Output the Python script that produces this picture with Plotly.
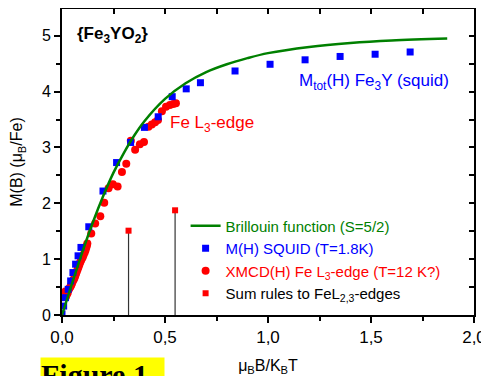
import plotly.graph_objects as go

# Brillouin function (S=5/2)
bril_x = [0.0, 0.05, 0.10, 0.15, 0.20, 0.25, 0.30, 0.35, 0.40, 0.50, 0.60, 0.70,
          0.80, 0.90, 1.00, 1.20, 1.40, 1.60, 1.87]
bril_y = [0.0, 0.58, 1.14, 1.66, 2.13, 2.55, 2.90, 3.21, 3.47, 3.87, 4.15, 4.35,
          4.49, 4.60, 4.69, 4.80, 4.87, 4.915, 4.95]

# M(H) SQUID (T=1.8K)
squid_x = [0.0, 0.008, 0.017, 0.030, 0.042, 0.053, 0.066, 0.078, 0.092, 0.130, 0.199,
           0.265, 0.333, 0.400, 0.467, 0.535, 0.603, 0.672, 0.840, 1.010, 1.180,
           1.350, 1.520, 1.690]
squid_y = [0.02, 0.16, 0.31, 0.46, 0.61, 0.76, 0.91, 1.06, 1.21, 1.58, 2.22,
           2.73, 3.09, 3.36, 3.55, 3.91, 4.05, 4.16, 4.37, 4.49, 4.57,
           4.63, 4.67, 4.71]

# XMCD(H) Fe L3-edge (T=12 K?)
xmcd_x = [0.016, 0.020, 0.024, 0.028, 0.032, 0.036, 0.040, 0.044, 0.048, 0.052,
          0.056, 0.060, 0.064, 0.068, 0.072, 0.076, 0.080, 0.084, 0.088, 0.092,
          0.097, 0.101, 0.105, 0.110, 0.114, 0.118, 0.121, 0.123, 0.142, 0.161,
          0.186, 0.205, 0.226, 0.247, 0.270, 0.291, 0.312, 0.334, 0.355, 0.378,
          0.398, 0.420, 0.436, 0.452, 0.466, 0.485, 0.505, 0.524, 0.540, 0.553]
xmcd_y = [0.42, 0.33, 0.37, 0.40, 0.45, 0.48, 0.50, 0.53, 0.56, 0.60,
          0.63, 0.66, 0.70, 0.74, 0.78, 0.82, 0.86, 0.90, 0.94, 0.97,
          1.01, 1.04, 1.08, 1.12, 1.16, 1.21, 1.25, 1.28, 1.46, 1.64,
          1.77, 2.01, 2.27, 2.34, 2.30, 2.56, 2.71, 3.12, 2.96, 3.06,
          3.10, 3.37, 3.41, 3.45, 3.49, 3.65, 3.73, 3.76, 3.78, 3.79]

# Sum rules to FeL2,3-edges
sum_x = [0.323, 0.549]
sum_y = [1.51, 1.875]

xtick_vals = [0.0, 0.5, 1.0, 1.5, 2.0]
xtick_text = ["0,0", "0,5", "1,0", "1,5", "2,0"]
ytick_vals = [0, 1, 2, 3, 4, 5]

GREEN = "#008000"
BLUE = "#0000FF"
RED = "#FF0000"
FONT = "Liberation Sans, Arial, sans-serif"

# drop lines for sum-rule points (built from the data arrays)
drop_x, drop_y = [], []
for xv, yv in zip(sum_x, sum_y):
    drop_x += [xv, xv, None]
    drop_y += [0, yv, None]

fig = go.Figure()
fig.add_trace(go.Scatter(x=drop_x, y=drop_y, mode="lines",
                         line=dict(color="#333333", width=1.2),
                         showlegend=False, hoverinfo="skip"))
fig.add_trace(go.Scatter(x=xmcd_x, y=xmcd_y, mode="markers",
                         marker=dict(symbol="circle", size=8, color=RED),
                         name="<span style='color:#FF0000'>XMCD(H) Fe L<sub>3</sub>-edge (T=12 K?)</span>",
                         legendrank=3))
fig.add_trace(go.Scatter(x=squid_x, y=squid_y, mode="markers",
                         marker=dict(symbol="square", size=7, color=BLUE),
                         name="<span style='color:#0000FF'>M(H) SQUID (T=1.8K)</span>",
                         legendrank=2))
fig.add_trace(go.Scatter(x=bril_x, y=bril_y, mode="lines",
                         line=dict(color=GREEN, width=2.5, shape="spline"),
                         name="<span style='color:#008000'>Brillouin function (S=5/2)</span>",
                         legendrank=1))
fig.add_trace(go.Scatter(x=sum_x, y=sum_y, mode="markers",
                         marker=dict(symbol="square", size=6, color=RED),
                         name="Sum rules to FeL<sub>2,3</sub>-edges",
                         legendrank=4))
# hidden traces so the top / right axes with inward ticks get drawn
fig.add_trace(go.Scatter(x=sum_x, y=sum_y, xaxis="x2", yaxis="y", mode="markers",
                         marker=dict(opacity=0), showlegend=False, hoverinfo="skip"))
fig.add_trace(go.Scatter(x=sum_x, y=sum_y, xaxis="x", yaxis="y2", mode="markers",
                         marker=dict(opacity=0), showlegend=False, hoverinfo="skip"))

# page body has an 8px default margin, so the figure is drawn 8px smaller
fig.update_layout(
    width=481, height=368,
    margin=dict(l=54, r=15, t=1, b=61, autoexpand=False),
    paper_bgcolor="white", plot_bgcolor="white",
    font=dict(family=FONT, size=15, color="black"),
    showlegend=True,
    legend=dict(x=0.300, y=0.345, xanchor="left", yanchor="top",
                bgcolor="rgba(0,0,0,0)", font=dict(size=15, family=FONT),
                tracegroupgap=0, itemwidth=30),
    xaxis=dict(range=[0, 2.0], tickvals=xtick_vals, ticktext=xtick_text,
               ticks="outside", ticklen=6, tickwidth=1.5, tickcolor="black",
               showline=True, linewidth=2, linecolor="black", mirror=True,
               showgrid=False, zeroline=False, automargin=False,
               minor=dict(ticks="outside", dtick=0.25, tick0=0, ticklen=4,
                          tickwidth=1.5, tickcolor="black", showgrid=False),
               tickfont=dict(size=17, family=FONT),
               title=dict(text="μ<sub>B</sub>B/K<sub>B</sub>T", font=dict(size=16, family=FONT))),
    yaxis=dict(range=[0, 5.48], tickvals=ytick_vals,
               ticks="outside", ticklen=6, tickwidth=1.5, tickcolor="black",
               showline=True, linewidth=2, linecolor="black", mirror=True,
               showgrid=False, zeroline=False, automargin=False,
               minor=dict(ticks="outside", dtick=0.5, tick0=0, ticklen=4,
                          tickwidth=1.5, tickcolor="black", showgrid=False),
               tickfont=dict(size=16, family=FONT),
               title=dict(text="M(B) (μ<sub>B</sub>/Fe)", font=dict(size=16, family=FONT))),
    xaxis2=dict(range=[0, 2.0], overlaying="x", side="top", anchor="y",
                tickmode="linear", dtick=0.25, tick0=0, ticks="inside", ticklen=5,
                tickwidth=1.5, tickcolor="black", showticklabels=False,
                showgrid=False, zeroline=False, showline=False, automargin=False),
    yaxis2=dict(range=[0, 5.48], overlaying="y", side="right", anchor="x",
                tickmode="linear", dtick=0.5, tick0=0, ticks="inside", ticklen=5,
                tickwidth=1.5, tickcolor="black", showticklabels=False,
                showgrid=False, zeroline=False, showline=False, automargin=False),
)

fig.add_annotation(x=0.065, y=5.02, xref="x", yref="y", xanchor="left", yanchor="middle",
                   text="<b>{Fe<sub>3</sub>YO<sub>2</sub>}</b>", showarrow=False,
                   font=dict(size=17, family=FONT, color="black"))
fig.add_annotation(x=0.515, y=3.42, xref="x", yref="y", xanchor="left", yanchor="middle",
                   text="Fe L<sub>3</sub>-edge", showarrow=False,
                   font=dict(size=17, family=FONT, color=RED))
fig.add_annotation(x=1.14, y=4.18, xref="x", yref="y", xanchor="left", yanchor="middle",
                   text="M<sub>tot</sub>(H) Fe<sub>3</sub>Y (squid)", showarrow=False,
                   font=dict(size=17, family=FONT, color=BLUE))
fig.add_annotation(x=-0.053, y=-0.137, xref="paper", yref="paper",
                   xanchor="left", yanchor="top", text="<b>Figure 1</b>",
                   showarrow=False, bgcolor="#FFFF00", borderpad=0,
                   width=123, align="left",
                   font=dict(size=30, family="Liberation Serif, Times New Roman, serif",
                             color="black"))

fig.write_html("out.html")
